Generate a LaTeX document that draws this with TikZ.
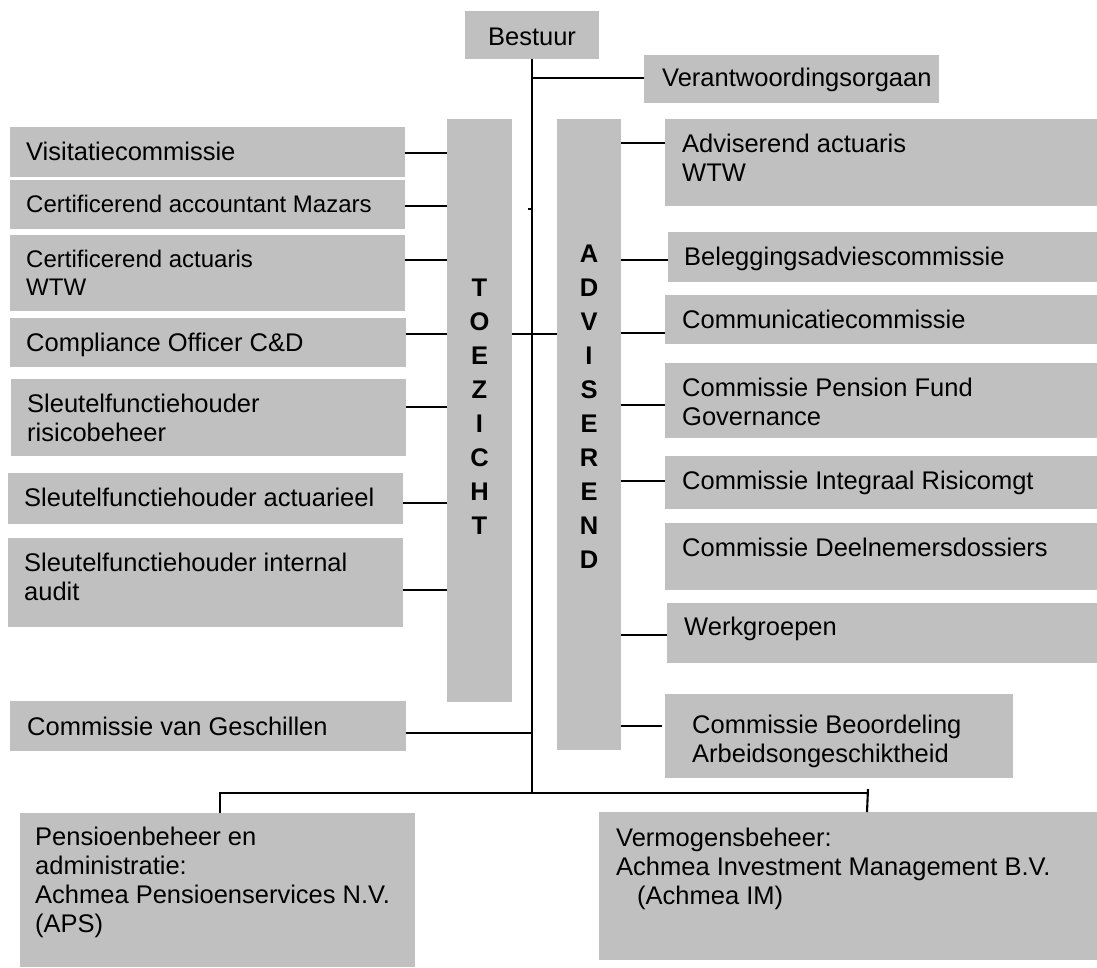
\documentclass[tikz,border=0pt]{standalone}
\usepackage{fontspec}
\setmainfont{Liberation Sans}
\definecolor{boxgray}{RGB}{192,192,192}
\newcommand{\ml}[1]{\begin{tabular}[t]{@{}l@{}}#1\end{tabular}}
\newcommand{\mc}[1]{\begin{tabular}[t]{@{}c@{}}#1\end{tabular}}
\tikzset{
  gbox/.style={draw=none, fill=boxgray, rectangle, inner sep=0pt, outer sep=0pt, anchor=north west},
  gtext/.style={anchor=base west, inner sep=0pt, font=\fontsize{25.5}{29}\selectfont},
  stext/.style={gtext, font=\fontsize{24}{28}\selectfont},
  vtext/.style={anchor=base, inner sep=0pt, font=\fontsize{25.5}{34}\selectfont\bfseries},
  conn/.style={line width=2.1pt, black},
}
\newcommand{\gbox}[5]{\node[gbox, minimum width={#4-#2}, minimum height={#5-#3}] (#1) at (#2,-#3) {};}
\begin{document}
\begin{tikzpicture}[x=1pt,y=1pt]
\useasboundingbox (0,0) rectangle (1097,-967);
% boxes
\gbox{bes}{465}{11}{599}{59}
\gbox{ver}{644}{55}{939}{103}
\gbox{vis}{10}{127}{405}{177}
\gbox{maz}{10}{180}{405}{229}
\gbox{cact}{10}{235}{405}{311}
\gbox{comp}{10}{318}{406}{367}
\gbox{risk}{11}{379}{406}{456}
\gbox{actu}{8}{473}{403}{524}
\gbox{audit}{8}{538}{403}{627}
\gbox{ges}{10}{701}{406}{751}
\gbox{toe}{447}{119}{512}{702}
\gbox{adv}{557}{119}{621}{750}
\gbox{aact}{665}{119}{1097}{206}
\gbox{bel}{668}{232}{1097}{282}
\gbox{cmc}{665}{295}{1097}{344}
\gbox{pfg}{665}{363}{1097}{438}
\gbox{irm}{665}{456}{1097}{509}
\gbox{dnd}{665}{523}{1097}{590}
\gbox{wg}{667}{603}{1097}{663}
\gbox{bao}{665}{694}{1013}{778}
\gbox{pen}{20}{813}{415}{967}
\gbox{verm}{599}{812}{1097}{960}
% texts
\node[gtext, anchor=base] (bes-t) at ([yshift=-34]bes.north) {Bestuur};
\node[gtext] (ver-t) at ([xshift=18,yshift=-31]ver.north west) {Verantwoordingsorgaan};
\node[gtext] (vis-t) at ([xshift=16,yshift=-33]vis.north west) {Visitatiecommissie};
\node[stext] (maz-t) at ([xshift=16,yshift=-32]maz.north west) {Certificerend accountant Mazars};
\node[stext] (cact-t) at ([xshift=16,yshift=-32]cact.north west) {\ml{Certificerend actuaris\\WTW}};
\node[gtext] (comp-t) at ([xshift=16,yshift=-33]comp.north west) {Compliance Officer C\&D};
\node[gtext] (risk-t) at ([xshift=16,yshift=-33]risk.north west) {\ml{Sleutelfunctiehouder\\risicobeheer}};
\node[gtext] (actu-t) at ([xshift=16,yshift=-33]actu.north west) {Sleutelfunctiehouder actuarieel};
\node[gtext] (audit-t) at ([xshift=16,yshift=-33]audit.north west) {\ml{Sleutelfunctiehouder internal\\audit}};
\node[gtext] (ges-t) at ([xshift=17,yshift=-34]ges.north west) {Commissie van Geschillen};
\node[vtext] (toe-t) at (toe.north |- 0,-296) {\mc{T\\O\\E\\Z\\I\\C\\H\\T}};
\node[vtext] (adv-t) at (adv.north |- 0,-262) {\mc{A\\D\\V\\I\\S\\E\\R\\E\\N\\D}};
\node[gtext] (aact-t) at ([xshift=17,yshift=-33]aact.north west) {\ml{Adviserend actuaris\\WTW}};
\node[gtext] (bel-t) at ([xshift=16,yshift=-33]bel.north west) {Beleggingsadviescommissie};
\node[gtext] (cmc-t) at ([xshift=17,yshift=-33]cmc.north west) {Communicatiecommissie};
\node[gtext] (pfg-t) at ([xshift=17,yshift=-33]pfg.north west) {\ml{Commissie Pension Fund\\Governance}};
\node[gtext] (irm-t) at ([xshift=17,yshift=-33]irm.north west) {Commissie Integraal Risicomgt};
\node[gtext] (dnd-t) at ([xshift=17,yshift=-33]dnd.north west) {Commissie Deelnemersdossiers};
\node[gtext] (wg-t) at ([xshift=17,yshift=-32]wg.north west) {Werkgroepen};
\node[gtext] (bao-t) at ([xshift=27,yshift=-39]bao.north west) {\ml{Commissie Beoordeling\\Arbeidsongeschiktheid}};
\node[gtext] (pen-t) at ([xshift=15,yshift=-32]pen.north west) {\ml{Pensioenbeheer en\\administratie:\\Achmea Pensioenservices N.V.\\(APS)}};
\node[gtext] (verm-t) at ([xshift=17,yshift=-34]verm.north west) {\ml{Vermogensbeheer:\\Achmea Investment Management B.V.\\\hspace*{21pt}(Achmea IM)}};
% connectors
\coordinate (bl) at (220,-793);
\coordinate (br) at (868,-793);
\coordinate (brtop) at (868,-789);
\draw[conn] (bes.south) -- (bes.south |- bl);
\draw[conn] (pen.north -| bl) -- (bl) -- (br);
\draw[conn] (brtop) -- ([xshift=-1]verm.north -| br);
\draw[conn] (ver.west |- 0,-78) -- (bes.south |- 0,-78);
\draw[conn] (bes.south |- 0,-209) -- ++(-4,0);
\draw[conn] (vis.east |- 0,-153) -- (toe.west |- 0,-153);
\draw[conn] (maz.east |- 0,-206) -- (toe.west |- 0,-206);
\draw[conn] (cact.east |- 0,-260) -- (toe.west |- 0,-260);
\draw[conn] (comp.east |- 0,-334) -- (toe.west |- 0,-334);
\draw[conn] (toe.east |- 0,-334) -- (adv.west |- 0,-334);
\draw[conn] (risk.east |- 0,-407) -- (toe.west |- 0,-407);
\draw[conn] (actu.east |- 0,-503) -- (toe.west |- 0,-503);
\draw[conn] (audit.east |- 0,-590) -- (toe.west |- 0,-590);
\draw[conn] (ges.east |- 0,-733) -- (bes.south |- 0,-733);
\draw[conn] (adv.east |- 0,-143) -- (aact.west |- 0,-143);
\draw[conn] (adv.east |- 0,-260) -- (bel.west |- 0,-260);
\draw[conn] (adv.east |- 0,-333) -- (cmc.west |- 0,-333);
\draw[conn] (adv.east |- 0,-405) -- (pfg.west |- 0,-405);
\draw[conn] (adv.east |- 0,-481) -- (irm.west |- 0,-481);
\draw[conn] (adv.east |- 0,-635) -- (wg.west |- 0,-635);
\draw[conn] (adv.east |- 0,-726) -- ([xshift=-3]bao.west |- 0,-726);
\end{tikzpicture}
\end{document}
